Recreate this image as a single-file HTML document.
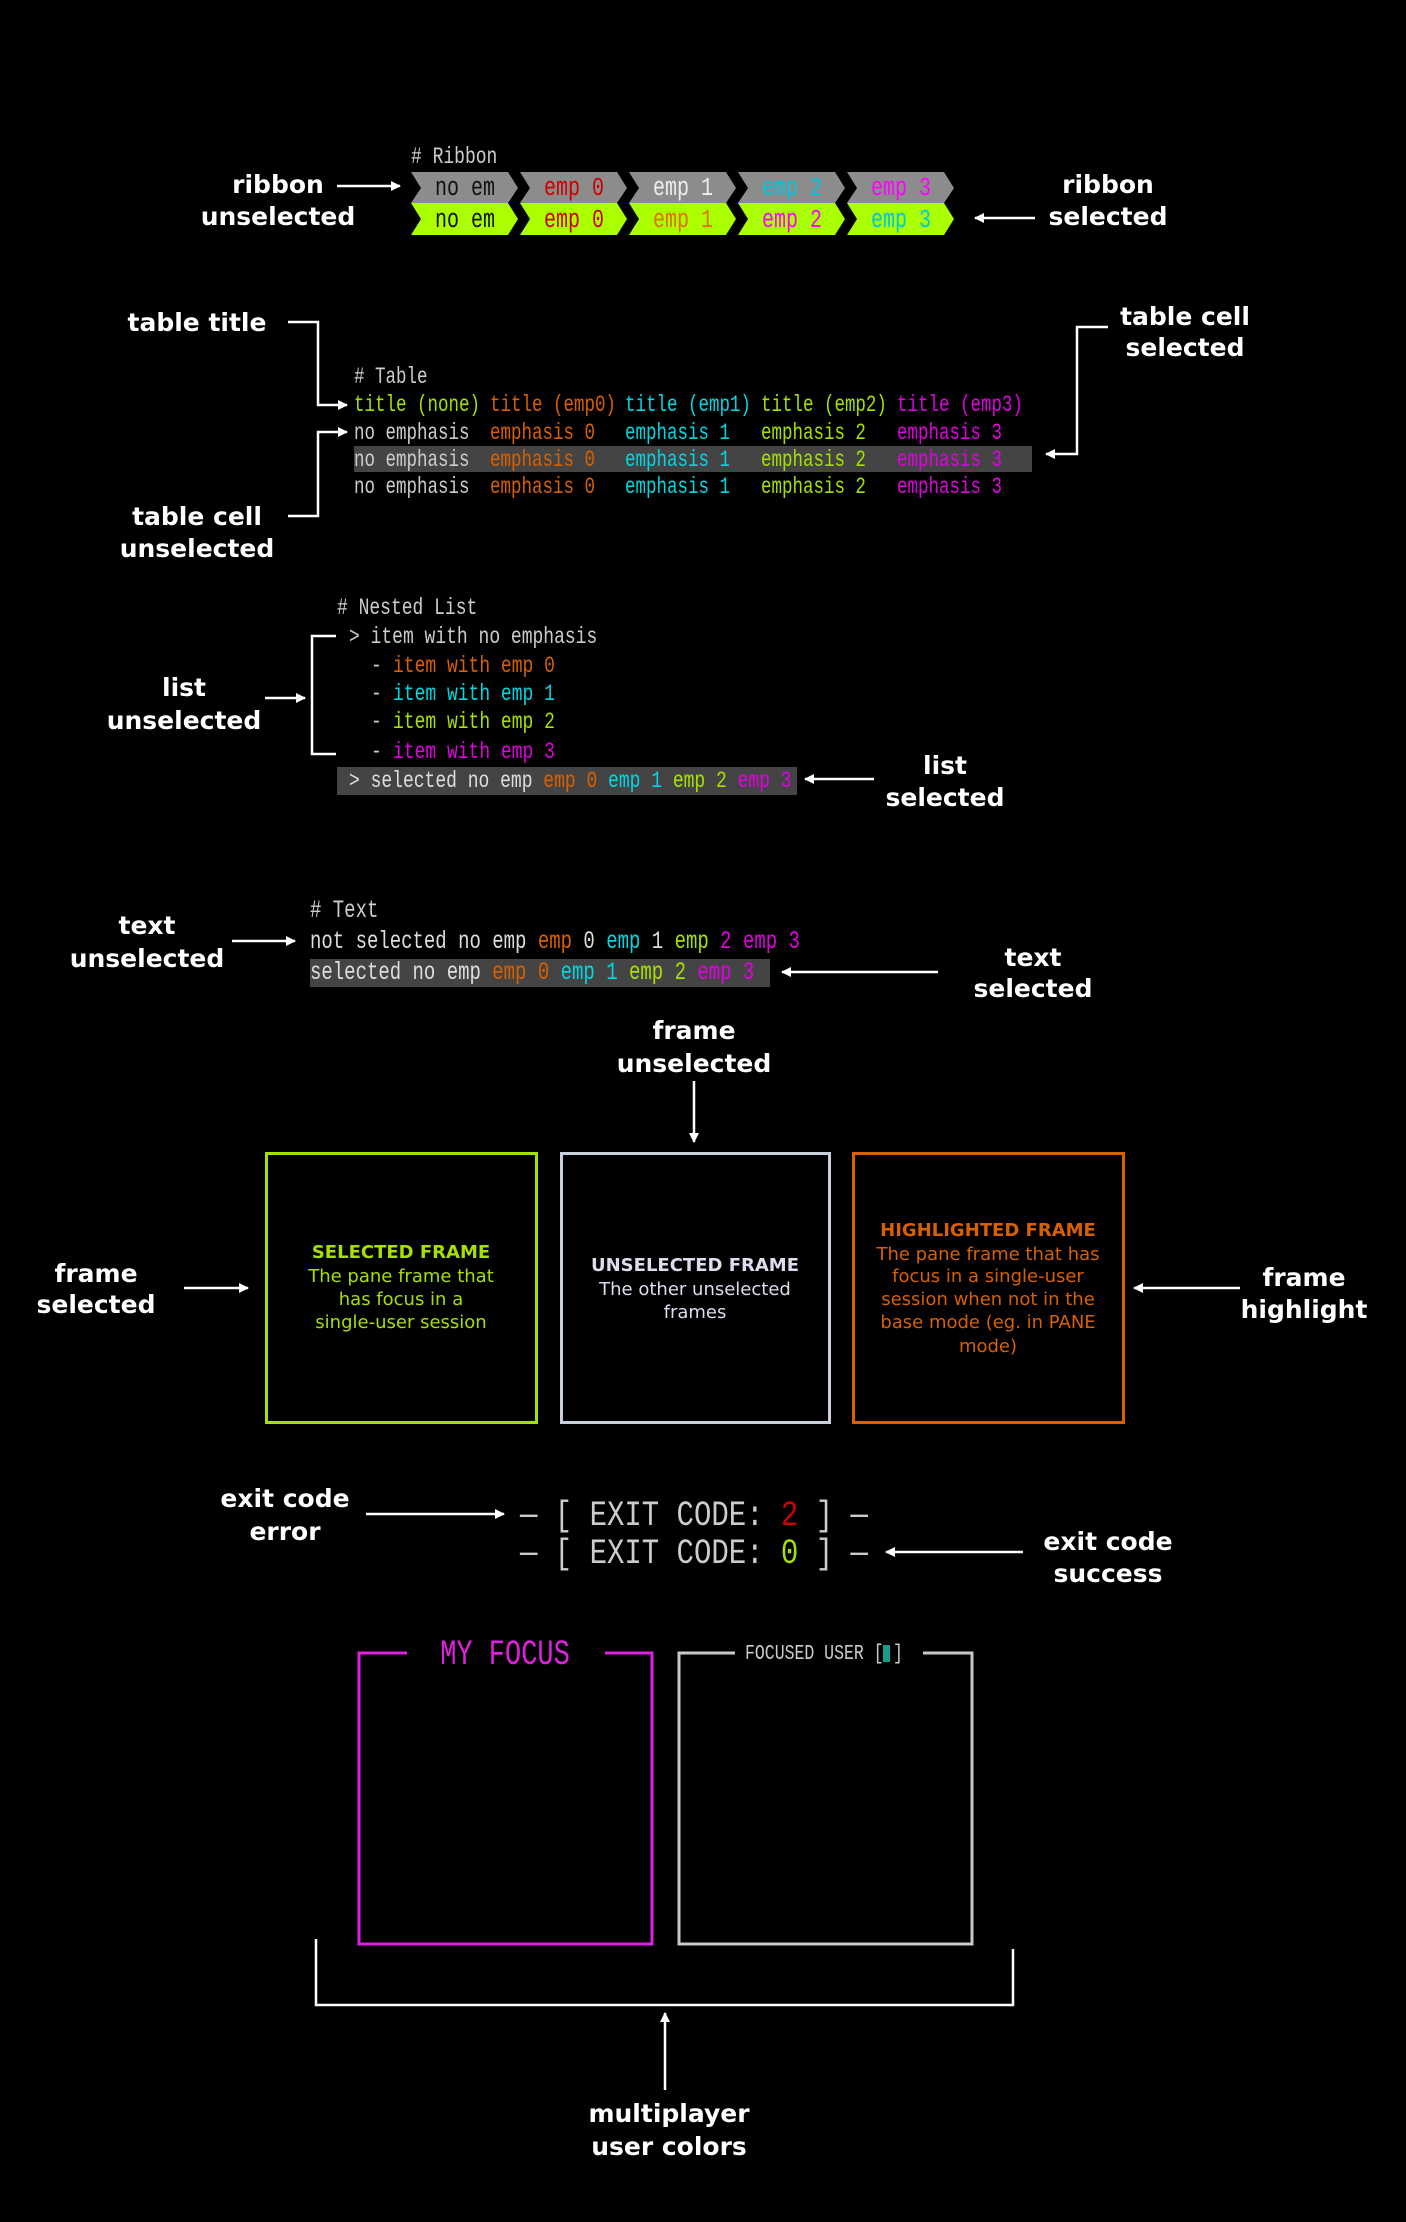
<!DOCTYPE html>
<html><head><meta charset="utf-8"><style>
html,body{margin:0;padding:0;background:#000;}
svg{display:block}
.l{font-family:"DejaVu Sans","Liberation Sans",sans-serif;font-weight:bold;font-size:25px;fill:#fff;text-anchor:middle}
.m{font-family:"Liberation Mono",monospace;white-space:pre}
.f{font-family:"DejaVu Sans","Liberation Sans",sans-serif;font-size:18px;text-anchor:middle}
.fb{font-weight:bold}
</style></head><body>
<svg width="1406" height="2222" viewBox="0 0 1406 2222" xmlns="http://www.w3.org/2000/svg" xml:space="preserve">
<defs>
<marker id="a" viewBox="0 0 10 10" refX="9" refY="5" markerWidth="4" markerHeight="4" orient="auto"><path d="M0,0L10,5L0,10z" fill="#fff"/></marker>
</defs>
<rect width="1406" height="2222" fill="#000"/>
<g stroke="#fff" stroke-width="2.5" fill="none">
<line x1="337" y1="186" x2="400" y2="186" marker-end="url(#a)"/>
<line x1="1035" y1="218" x2="975" y2="218" marker-end="url(#a)"/>
<polyline points="288,322 318,322 318,405 347,405" marker-end="url(#a)"/>
<polyline points="288,516 318,516 318,432 347,432" marker-end="url(#a)"/>
<polyline points="1108,327 1077,327 1077,454 1046,454" marker-end="url(#a)"/>
<polyline points="336,636 312,636 312,754 336,754"/>
<line x1="265" y1="698" x2="305" y2="698" marker-end="url(#a)"/>
<line x1="874" y1="779" x2="805" y2="779" marker-end="url(#a)"/>
<line x1="232" y1="941" x2="295" y2="941" marker-end="url(#a)"/>
<line x1="938" y1="972" x2="782" y2="972" marker-end="url(#a)"/>
<line x1="694" y1="1081" x2="694" y2="1142" marker-end="url(#a)"/>
<line x1="184" y1="1288" x2="248" y2="1288" marker-end="url(#a)"/>
<line x1="1240" y1="1288" x2="1134" y2="1288" marker-end="url(#a)"/>
<line x1="366" y1="1514" x2="504" y2="1514" marker-end="url(#a)"/>
<line x1="1023" y1="1552" x2="886" y2="1552" marker-end="url(#a)"/>
<polyline points="316,1939 316,2005 1013,2005 1013,1949"/>
<line x1="665" y1="2090" x2="665" y2="2013" marker-end="url(#a)"/>
</g>

<text class="l" x="278" y="193">ribbon</text><text class="l" x="278" y="225">unselected</text>
<text class="l" x="1108" y="193">ribbon</text><text class="l" x="1108" y="225">selected</text>
<text class="l" x="197" y="331">table title</text>
<text class="l" x="197" y="525">table cell</text><text class="l" x="197" y="557">unselected</text>
<text class="l" x="1185" y="325">table cell</text><text class="l" x="1185" y="356">selected</text>
<text class="l" x="184" y="696">list</text><text class="l" x="184" y="729">unselected</text>
<text class="l" x="945" y="774">list</text><text class="l" x="945" y="806">selected</text>
<text class="l" x="147" y="934">text</text><text class="l" x="147" y="967">unselected</text>
<text class="l" x="1033" y="966">text</text><text class="l" x="1033" y="997">selected</text>
<text class="l" x="694" y="1039">frame</text><text class="l" x="694" y="1072">unselected</text>
<text class="l" x="96" y="1282">frame</text><text class="l" x="96" y="1313">selected</text>
<text class="l" x="1304" y="1286">frame</text><text class="l" x="1304" y="1318">highlight</text>
<text class="l" x="285" y="1507">exit code</text><text class="l" x="285" y="1540">error</text>
<text class="l" x="1108" y="1550">exit code</text><text class="l" x="1108" y="1582">success</text>
<text class="l" x="669" y="2122">multiplayer</text><text class="l" x="669" y="2155">user colors</text>

<!-- Ribbon -->
<text class="m" font-size="18" fill="#ccc" transform="translate(411,163) scale(1,1.3)"># Ribbon</text>
<g>
<polygon points="411,172 508,172 518,188 508,203 411,203 421,188" fill="#8c8c8c"/>
<polygon points="520,172 617,172 627,188 617,203 520,203 530,188" fill="#8c8c8c"/>
<polygon points="629,172 726,172 736,188 726,203 629,203 639,188" fill="#8c8c8c"/>
<polygon points="738,172 835,172 845,188 835,203 738,203 748,188" fill="#8c8c8c"/>
<polygon points="847,172 944,172 954,188 944,203 847,203 857,188" fill="#8c8c8c"/>
<polygon points="411,203 508,203 518,219 508,235 411,235 421,219" fill="#aaff00"/>
<polygon points="520,203 617,203 627,219 617,235 520,235 530,219" fill="#aaff00"/>
<polygon points="629,203 726,203 736,219 726,235 629,235 639,219" fill="#aaff00"/>
<polygon points="738,203 835,203 845,219 835,235 738,235 748,219" fill="#aaff00"/>
<polygon points="847,203 944,203 954,219 944,235 847,235 857,219" fill="#aaff00"/>
</g>
<g class="m" font-size="20" text-anchor="middle">
<text transform="translate(465,195) scale(1,1.3)" fill="#111">no em</text>
<text transform="translate(574,195) scale(1,1.3)" fill="#cc0000">emp 0</text>
<text transform="translate(683,195) scale(1,1.3)" fill="#eee">emp 1</text>
<text transform="translate(792,195) scale(1,1.3)" fill="#00c8e0">emp 2</text>
<text transform="translate(901,195) scale(1,1.3)" fill="#ff00ff">emp 3</text>
<text transform="translate(465,227) scale(1,1.3)" fill="#111">no em</text>
<text transform="translate(574,227) scale(1,1.3)" fill="#cc0000">emp 0</text>
<text transform="translate(683,227) scale(1,1.3)" fill="#e07000">emp 1</text>
<text transform="translate(792,227) scale(1,1.3)" fill="#ff00ff">emp 2</text>
<text transform="translate(901,227) scale(1,1.3)" fill="#00c8e0">emp 3</text>
</g>

<!-- Table -->
<rect x="354" y="446" width="678" height="26" fill="#444"/>
<g class="m" font-size="17.5">
<text transform="translate(354,383) scale(1,1.3)" fill="#ccc"># Table</text>
<text transform="translate(354,411) scale(1,1.3)"><tspan x="0" fill="#a6e000">title (none)</tspan><tspan x="136" fill="#d76000">title (emp0)</tspan><tspan x="271" fill="#00d7e0">title (emp1)</tspan><tspan x="407" fill="#a6e000">title (emp2)</tspan><tspan x="543" fill="#e000e0">title (emp3)</tspan></text>
<text transform="translate(354,439) scale(1,1.3)"><tspan x="0" fill="#ccc">no emphasis</tspan><tspan x="136" fill="#d76000">emphasis 0</tspan><tspan x="271" fill="#00d7e0">emphasis 1</tspan><tspan x="407" fill="#a6e000">emphasis 2</tspan><tspan x="543" fill="#e000e0">emphasis 3</tspan></text>
<text transform="translate(354,466) scale(1,1.3)"><tspan x="0" fill="#ccc">no emphasis</tspan><tspan x="136" fill="#d76000">emphasis 0</tspan><tspan x="271" fill="#00d7e0">emphasis 1</tspan><tspan x="407" fill="#a6e000">emphasis 2</tspan><tspan x="543" fill="#e000e0">emphasis 3</tspan></text>
<text transform="translate(354,493) scale(1,1.3)"><tspan x="0" fill="#ccc">no emphasis</tspan><tspan x="136" fill="#d76000">emphasis 0</tspan><tspan x="271" fill="#00d7e0">emphasis 1</tspan><tspan x="407" fill="#a6e000">emphasis 2</tspan><tspan x="543" fill="#e000e0">emphasis 3</tspan></text>
</g>

<!-- Nested list -->
<rect x="337" y="767" width="460" height="28" fill="#444"/>
<g class="m" font-size="18">
<text transform="translate(337,614) scale(1,1.3)" fill="#ccc"># Nested List</text>
<text transform="translate(349,643) scale(1,1.3)" fill="#ccc">&gt; item with no emphasis</text>
<text transform="translate(349,672) scale(1,1.3)"><tspan x="22" fill="#ccc">-</tspan><tspan x="44" fill="#d76000">item with emp 0</tspan></text>
<text transform="translate(349,700) scale(1,1.3)"><tspan x="22" fill="#ccc">-</tspan><tspan x="44" fill="#00d7e0">item with emp 1</tspan></text>
<text transform="translate(349,728) scale(1,1.3)"><tspan x="22" fill="#ccc">-</tspan><tspan x="44" fill="#a6e000">item with emp 2</tspan></text>
<text transform="translate(349,758) scale(1,1.3)"><tspan x="22" fill="#ccc">-</tspan><tspan x="44" fill="#e000e0">item with emp 3</tspan></text>
<text transform="translate(349,787) scale(1,1.3)"><tspan fill="#ddd">&gt; selected no emp </tspan><tspan fill="#d76000">emp 0 </tspan><tspan fill="#00d7e0">emp 1 </tspan><tspan fill="#a6e000">emp 2 </tspan><tspan fill="#e000e0">emp 3</tspan></text>
</g>

<!-- Text -->
<rect x="310" y="959" width="460" height="28" fill="#444"/>
<g class="m" font-size="19">
<text transform="translate(310,917) scale(1,1.3)" fill="#ccc"># Text</text>
<text transform="translate(310,948) scale(1,1.3)"><tspan fill="#ddd">not selected no emp </tspan><tspan fill="#d76000">emp </tspan><tspan fill="#ddd">0 </tspan><tspan fill="#00d7e0">emp </tspan><tspan fill="#ddd">1 </tspan><tspan fill="#a6e000">emp </tspan><tspan fill="#e000e0">2 emp 3</tspan></text>
<text transform="translate(310,979) scale(1,1.3)"><tspan fill="#ddd">selected no emp </tspan><tspan fill="#d76000">emp 0 </tspan><tspan fill="#00d7e0">emp 1 </tspan><tspan fill="#a6e000">emp 2 </tspan><tspan fill="#e000e0">emp 3</tspan></text>
</g>

<!-- Frames -->
<rect x="266.5" y="1153.5" width="270" height="269" fill="none" stroke="#a6e000" stroke-width="3"/>
<rect x="561.5" y="1153.5" width="268" height="269" fill="none" stroke="#c8d0dc" stroke-width="3"/>
<rect x="853.5" y="1153.5" width="270" height="269" fill="none" stroke="#d76000" stroke-width="3"/>
<g class="f" fill="#a6e000">
<text class="fb" x="401" y="1258">SELECTED FRAME</text>
<text x="401" y="1282">The pane frame that</text>
<text x="401" y="1305">has focus in a</text>
<text x="401" y="1328">single-user session</text>
</g>
<g class="f" fill="#dde">
<text class="fb" x="695" y="1271">UNSELECTED FRAME</text>
<text x="695" y="1295">The other unselected</text>
<text x="695" y="1318">frames</text>
</g>
<g class="f" fill="#d76000">
<text class="fb" x="988" y="1236">HIGHLIGHTED FRAME</text>
<text x="988" y="1260">The pane frame that has</text>
<text x="988" y="1282">focus in a single-user</text>
<text x="988" y="1305">session when not in the</text>
<text x="988" y="1328">base mode (eg. in PANE</text>
<text x="988" y="1352">mode)</text>
</g>

<!-- Exit code -->
<g class="m" font-size="29">
<text transform="translate(520,1525) scale(1,1.2)"><tspan fill="#ccc">— [ EXIT CODE: </tspan><tspan fill="#cc0000">2</tspan><tspan fill="#ccc"> ] —</tspan></text>
<text transform="translate(520,1563) scale(1,1.2)"><tspan fill="#ccc">— [ EXIT CODE: </tspan><tspan fill="#a6e000">0</tspan><tspan fill="#ccc"> ] —</tspan></text>
</g>

<!-- Multiplayer -->
<polyline points="407,1653 359,1653 359,1944 652,1944 652,1653 605,1653" fill="none" stroke="#e020e0" stroke-width="3"/>
<polyline points="735,1653 679,1653 679,1944 972,1944 972,1653 923,1653" fill="none" stroke="#c8c8c8" stroke-width="3"/>
<text class="m" font-size="27" fill="#e020e0" text-anchor="middle" transform="translate(505,1664) scale(1,1.3)">MY FOCUS</text>
<text class="m" font-size="16.5" fill="#ccc" transform="translate(745,1659) scale(1,1.3)"><tspan x="0">FOCUSED USER [</tspan><tspan x="148">]</tspan></text>
<rect x="883" y="1645" width="7" height="17" fill="#1a9a8a"/>
</svg>
</body></html>
